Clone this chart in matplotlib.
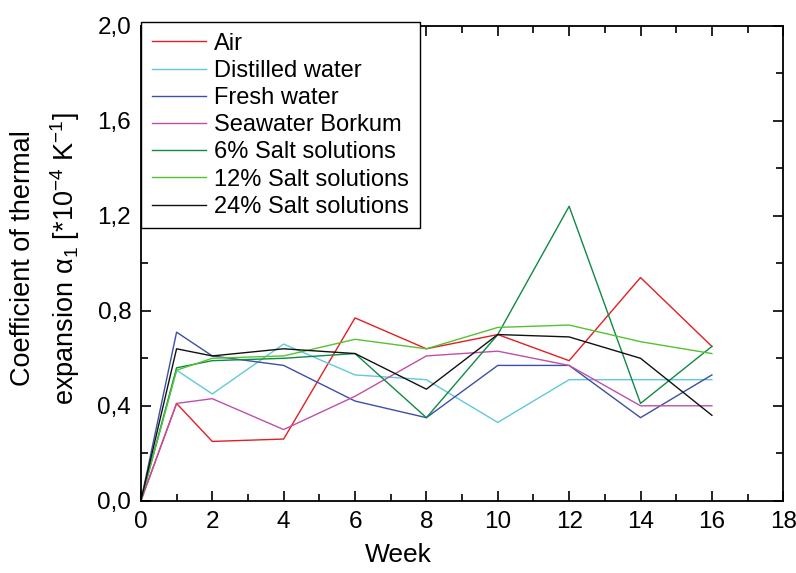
import numpy as np
import matplotlib.pyplot as plt
from matplotlib.ticker import MultipleLocator, FuncFormatter

plt.rcParams['font.family'] = ['Liberation Sans', 'DejaVu Sans']
plt.rcParams['mathtext.fontset'] = 'custom'
plt.rcParams['mathtext.rm'] = 'Liberation Sans'
plt.rcParams['mathtext.it'] = 'Liberation Sans:italic'

# Datos
weeks = [0, 1, 2, 4, 6, 8, 10, 12, 14, 16]
air = [0, 0.41, 0.25, 0.26, 0.77, 0.64, 0.70, 0.59, 0.94, 0.65]
distilled = [0, 0.55, 0.45, 0.66, 0.53, 0.51, 0.33, 0.51, 0.51, 0.51]
fresh = [0, 0.71, 0.61, 0.57, 0.42, 0.35, 0.57, 0.57, 0.35, 0.53]
seawater = [0, 0.41, 0.43, 0.30, 0.44, 0.61, 0.63, 0.57, 0.40, 0.40]
salt6 = [0, 0.56, 0.59, 0.60, 0.62, 0.35, 0.70, 1.24, 0.41, 0.65]
salt12 = [0, 0.55, 0.60, 0.61, 0.68, 0.64, 0.73, 0.74, 0.67, 0.62]
salt24 = [0, 0.64, 0.61, 0.64, 0.62, 0.47, 0.70, 0.69, 0.60, 0.36]

series = [
    ('Air', air, '#e31e24'),
    ('Distilled water', distilled, '#5fc9d9'),
    ('Fresh water', fresh, '#3d4fa6'),
    ('Seawater Borkum', seawater, '#c04fa8'),
    ('6% Salt solutions', salt6, '#0f8a45'),
    ('12% Salt solutions', salt12, '#55c232'),
    ('24% Salt solutions', salt24, '#111111'),
]

fig = plt.figure(figsize=(7.96, 5.73), dpi=100)
ax = fig.add_axes([0.177, 0.126, 0.807, 0.829])

for label, vals, color in series:
    ax.plot(weeks, vals, color=color, linewidth=1.0, label=label)

ax.set_xlim(0, 18)
ax.set_ylim(0, 2.0)
ax.xaxis.set_major_locator(MultipleLocator(2))
ax.xaxis.set_minor_locator(MultipleLocator(1))
ax.yaxis.set_major_locator(MultipleLocator(0.4))
ax.yaxis.set_minor_locator(MultipleLocator(0.2))
ax.yaxis.set_major_formatter(FuncFormatter(lambda v, p: f'{v:.1f}'.replace('.', ',')))

ax.tick_params(which='both', direction='in', top=True, right=True, width=1.2, labelsize=17.5)
ax.tick_params(which='major', length=7, pad=7)
ax.tick_params(which='minor', length=5)
for s in ax.spines.values():
    s.set_linewidth(1.3)

ax.set_xlabel('Week', fontsize=19)
ax.xaxis.set_label_coords(0.40, -0.088)
ax.set_ylabel('Coefficient of thermal\nexpansion α$_1$ [*10$^{-4}$ K$^{-1}$]', fontsize=19.5,
              linespacing=1.45)
ax.yaxis.set_label_coords(-0.092, 0.51)

leg = ax.legend(loc='upper left', bbox_to_anchor=(0, 1.008), borderaxespad=0, fontsize=17,
                frameon=True, fancybox=False, edgecolor='black', framealpha=1,
                handlelength=2.3, handletextpad=0.35, labelspacing=0.22, borderpad=0.45)
leg.get_frame().set_linewidth(1.0)

fig.savefig('out.png', dpi=100)
